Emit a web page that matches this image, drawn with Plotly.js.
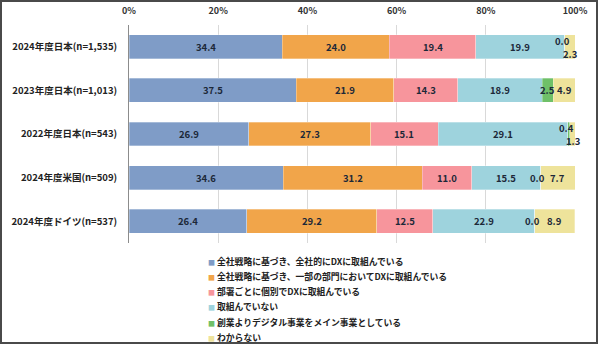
<!DOCTYPE html>
<html>
<head>
<meta charset="utf-8">
<script src="https://cdn.plot.ly/plotly-3.0.1.min.js"></script>
<style>
  body { margin: 0; background: #fff; }
  #wrap { position: relative; width: 600px; height: 345px; }
  #chart { width: 600px; height: 345px; }
  #frame { position: absolute; left: 0; top: 0; width: 598px; height: 344px; border: 2px solid #4a4a4a; box-sizing: border-box; pointer-events: none; }
</style>
</head>
<body>
<div id="wrap"><div id="chart"></div><div id="frame"></div></div>
<script>
const categories = ["2024年度日本(n=1,535)", "2023年度日本(n=1,013)", "2022年度日本(n=543)", "2024年度米国(n=509)", "2024年度ドイツ(n=537)"];
const seriesNames = ["全社戦略に基づき、全社的にDXに取組んでいる", "全社戦略に基づき、一部の部門においてDXに取組んでいる", "部署ごとに個別でDXに取組んでいる", "取組んでいない", "創業よりデジタル事業をメイン事業としている", "わからない"];
const s1 = [34.4, 37.5, 26.9, 34.6, 26.4];
const s2 = [24.0, 21.9, 27.3, 31.2, 29.2];
const s3 = [19.4, 14.3, 15.1, 11.0, 12.5];
const s4 = [19.9, 18.9, 29.1, 15.5, 22.9];
const s5 = [0.0, 2.5, 0.4, 0.0, 0.0];
const s6 = [2.3, 4.9, 1.3, 7.7, 8.9];
const tickVals = [0, 20, 40, 60, 80, 100];
const tickText = ["0%", "20%", "40%", "60%", "80%", "100%"];
const colors = ["#7f9cc7", "#f1a54a", "#f7959c", "#9ed3dd", "#6fc068", "#eee39b"];

const series = [s1, s2, s3, s4, s5, s6];
const FONT = "Noto Sans CJK JP";
const labelColor = "#1c2838";

const traces = series.map((vals, i) => ({
  type: "bar",
  orientation: "h",
  name: seriesNames[i],
  y: categories,
  x: vals,
  marker: { color: colors[i], line: { color: "rgba(255,255,255,0.6)", width: 0.5 } },
  textposition: "none",
  hoverinfo: "x+name",
  showlegend: false
}));

// value labels as annotations centered on segments
const annotations = [];
categories.forEach((cat, r) => {
  let cum = 0;
  series.forEach((vals, i) => {
    const v = vals[r];
    const center = cum + v / 2;
    let yshift = 0, x = center;
    const greenSmall = series[4][r] < 2;
    const yellowSmall = series[5][r] < 3;
    if (i === 4 && greenSmall && yellowSmall) { yshift = 6; x = center - 0.6; }
    if (i === 5 && yellowSmall) { yshift = -7; x = center + 0.2; }
    if (i === 4 && greenSmall && !yellowSmall) { x = center - 0.6; }
    annotations.push({
      x: x, y: cat, xref: "x", yref: "y",
      text: v.toFixed(1), showarrow: false,
      yshift: yshift,
      font: { family: FONT, size: 9.5, color: labelColor, weight: "bold" }
    });
    cum += v;
  });
});

// legend drawn as annotations
const legendTop = 261, legendStep = 15.3, plotTop = 25, plotH = 218, plotL = 129, plotW = 446;
seriesNames.forEach((name, i) => {
  const ypix = legendTop + i * legendStep;
  annotations.push({
    xref: "paper", yref: "paper",
    x: (206 - plotL) / plotW, y: 1 - (ypix - plotTop) / plotH,
    xanchor: "left", yanchor: "middle",
    text: "<span style='color:" + colors[i] + ";font-size:7px'>■</span> " + name,
    showarrow: false,
    font: { family: FONT, size: 8.8, color: "#222", weight: "bold" }
  });
});

const layout = {
  width: 600, height: 345,
  margin: { l: 129, r: 25, t: 25, b: 102 },
  paper_bgcolor: "#fff", plot_bgcolor: "#fff",
  barmode: "stack",
  bargap: 0.45,
  showlegend: false,
  xaxis: {
    side: "top", range: [0, 100], tickvals: tickVals, ticktext: tickText,
    showgrid: true, gridcolor: "#d9d9d9", gridwidth: 1, zeroline: false,
    showline: false, ticks: "", ticklen: 0, ticklabelstandoff: 8,
    tickfont: { family: FONT, size: 9, color: "#333", weight: "bold" },
    fixedrange: true
  },
  yaxis: {
    autorange: "reversed", showline: true, linecolor: "#8c8c8c", linewidth: 1,
    ticks: "", ticklabelstandoff: 9,
    tickfont: { family: FONT, size: 9.5, color: "#222", weight: "bold" },
    showgrid: false, fixedrange: true
  },
  annotations: annotations,
  font: { family: FONT }
};

Plotly.newPlot("chart", traces, layout, { displayModeBar: false, staticPlot: true });
</script>
</body>
</html>
